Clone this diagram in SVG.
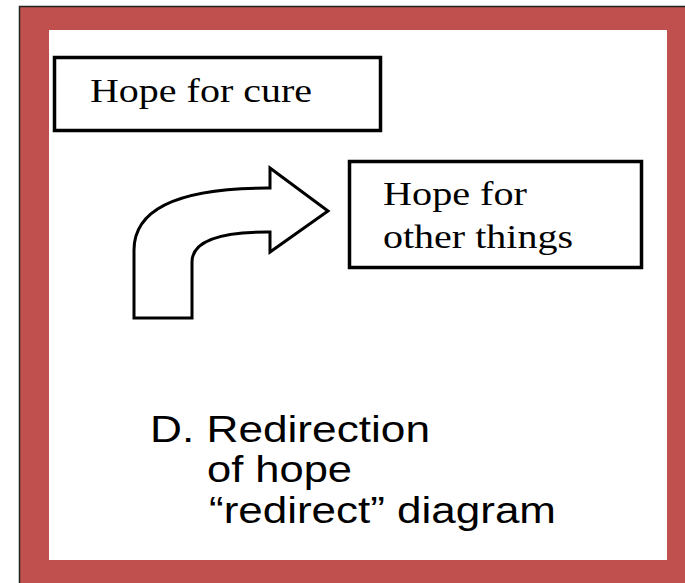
<svg xmlns="http://www.w3.org/2000/svg" width="685" height="583" viewBox="0 0 685 583">
<style>
.box{fill:#fff;stroke:#000;stroke-width:3.5}
.serif{font-family:"Liberation Serif","Times New Roman",serif;font-size:34px;fill:#000}
.sans{font-family:"Liberation Sans",Arial,sans-serif;font-size:36px;fill:#000}
</style>
<rect x="0" y="0" width="685" height="583" fill="#fff"/>
<rect x="19.5" y="6.5" width="670" height="580" fill="#C0504D" stroke="#222" stroke-width="1.5"/>
<rect x="49" y="30" width="618" height="530" fill="#fff"/>
<g id="node-cure">
<rect class="box" x="54.5" y="57.5" width="326" height="73"/>
<text class="serif" x="90" y="102" textLength="222" lengthAdjust="spacingAndGlyphs">Hope for cure</text>
</g>
<g id="node-other">
<rect class="box" x="349.5" y="161.5" width="292" height="106"/>
<text class="serif" x="383" y="205" textLength="144" lengthAdjust="spacingAndGlyphs">Hope for</text>
<text class="serif" x="383" y="248" textLength="190" lengthAdjust="spacingAndGlyphs">other things</text>
</g>
<g id="connectors">
<path d="M134,318 L134,250 Q134,188 268,188 L270,188 L270,168 L328,211 L270,252 L270,232 L267,232 Q192,232 192,262 L192,318 Z" fill="#fff" stroke="#000" stroke-width="3" stroke-linejoin="miter"/>
</g>
<g id="caption">
<text class="sans" x="150" y="442" textLength="280" lengthAdjust="spacingAndGlyphs">D. Redirection</text>
<text class="sans" x="207" y="482" textLength="145" lengthAdjust="spacingAndGlyphs">of hope</text>
<text class="sans" x="209" y="523" textLength="347" lengthAdjust="spacingAndGlyphs">“redirect” diagram</text>
</g>
</svg>
